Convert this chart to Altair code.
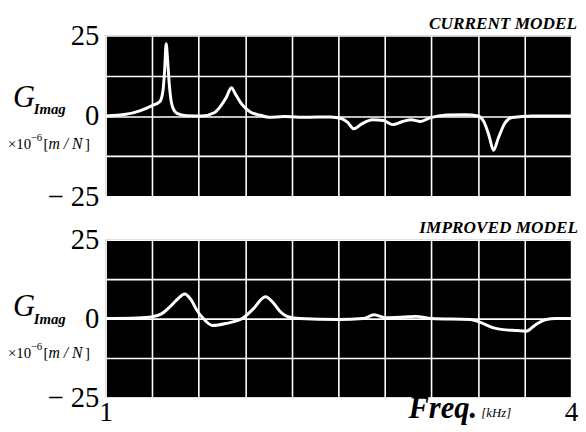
import altair as alt
import pandas as pd

# ---- data ----
freq_current = [1.00, 1.13, 1.22, 1.30, 1.35, 1.37, 1.38, 1.39, 1.40, 1.41, 1.43, 1.46, 1.52, 1.62,
                1.70, 1.74, 1.78, 1.81, 1.84, 1.88, 1.93, 2.00, 2.05, 2.15, 2.30, 2.45, 2.52,
                2.56, 2.60, 2.65, 2.72, 2.79, 2.85, 2.91, 2.97, 3.03, 3.09, 3.20, 3.32, 3.40,
                3.44, 3.47, 3.50, 3.53, 3.57, 3.62, 3.75, 4.00]
gimag_current = [0.0, 0.5, 1.6, 3.2, 4.5, 8.0, 14.0, 22.5, 17.0, 10.0, 3.0, 0.8, 0.1, 0.0,
                 1.0, 3.0, 6.0, 8.8, 6.5, 3.5, 1.3, 0.2, -0.4, -0.2, -0.4, -0.3, -0.8,
                 -2.0, -4.0, -2.5, -1.2, -1.4, -2.7, -1.8, -1.2, -1.7, -0.6, 0.3, 0.4, 0.0,
                 -2.0, -6.0, -10.7, -7.0, -2.5, -0.5, 0.0, 0.0]

freq_improved = [1.00, 1.20, 1.30, 1.36, 1.42, 1.47, 1.51, 1.55, 1.59, 1.63, 1.69, 1.78, 1.88,
                 1.95, 2.03, 2.08, 2.12, 2.18, 2.25, 2.50, 2.66, 2.73, 2.80, 2.92, 3.00, 3.10,
                 3.35, 3.42, 3.49, 3.56, 3.65, 3.71, 3.77, 3.84, 3.90, 4.00]
gimag_improved = [0.0, 0.2, 0.6, 1.5, 4.0, 6.5, 7.8, 6.0, 2.5, 0.0, -2.2, -1.5, 0.0,
                  3.0, 6.9, 5.0, 2.5, 0.5, 0.0, -0.3, 0.0, 1.2, 0.3, 0.5, 0.7, 0.0,
                  -0.3, -1.3, -2.8, -3.5, -3.8, -4.0, -2.0, -0.3, 0.0, 0.0]

x_ticks = [1.0, 1.3, 1.6, 1.9, 2.2, 2.5, 2.8, 3.1, 3.4, 3.7, 4.0]
y_ticks = [-25, -12.5, 0, 12.5, 25]
panel_titles = ["CURRENT MODEL", "IMPROVED MODEL"]
y_title_main = "G"
y_title_sub = "Imag"
y_unit_parts = ["\u00d710", "\u22126", "[", "m / N", "]"]
x_title = "Freq."
x_unit = "[kHz]"

SERIF = "Liberation Serif"
W = 472


def txt(s, x, y, size, style="normal", weight="normal"):
    return alt.Chart(pd.DataFrame({"t": [s]})).mark_text(
        font=SERIF, fontSize=size, fontStyle=style, fontWeight=weight,
        align="left", baseline="alphabetic", color="black").encode(
        text="t:N", x=alt.value(x), y=alt.value(y))


def panel(freqs, vals, title, height, show_x, g_y):
    df = pd.DataFrame({"f": freqs, "g": vals})
    xaxis = alt.Axis(values=x_ticks, grid=True, gridColor="white", gridWidth=1.6, gridOpacity=1,
                     domain=False, ticks=False, labels=show_x, labelFlush=False, labelOverlap=False,
                     labelExpr="datum.value < 1.01 ? '1' : (datum.value > 3.99 ? '4' : '')",
                     labelFont=SERIF, labelFontSize=28, labelColor="black", labelPadding=1, title=None)
    yaxis = alt.Axis(values=y_ticks, grid=True, gridColor="white", gridWidth=1.6, gridOpacity=1,
                     domain=False, ticks=False, labelOverlap=False, labelFlush=False,
                     labelExpr="datum.value == 25 ? '25' : (datum.value == 0 ? '0' : (datum.value == -25 ? '\u2212 25' : ''))",
                     labelFont=SERIF, labelFontSize=29, labelColor="black", labelPadding=7,
                     labelBaseline="middle", title=None)
    line = alt.Chart(df).mark_line(color="white", strokeWidth=3, interpolate="monotone").encode(
        x=alt.X("f:Q", scale=alt.Scale(domain=[1, 4], nice=False, zero=False), axis=xaxis),
        y=alt.Y("g:Q", scale=alt.Scale(domain=[-25, 25], nice=False), axis=yaxis),
    )
    layers = [
        line,
        txt(y_title_main, -94, g_y, 31, "italic"),
        txt(y_title_sub, -73, g_y + 8, 15, "italic", "bold"),
        txt(y_unit_parts[0], -99, g_y + 43, 15),
        txt(y_unit_parts[1], -76, g_y + 35, 11),
        txt(y_unit_parts[2], -63, g_y + 43, 15),
        txt(y_unit_parts[3], -58, g_y + 43, 16, "italic"),
        txt(y_unit_parts[4], -21, g_y + 43, 15),
    ]
    if show_x:
        layers += [
            txt(x_title, 307, height + 21, 31, "italic", "bold"),
            txt(x_unit, 381, height + 20, 13, "italic"),
        ]
    return alt.layer(*layers).properties(
        width=W, height=height,
        title=alt.TitleParams(title, anchor="end", font=SERIF, fontSize=17.5, fontStyle="italic",
                              fontWeight="bold", color="black", offset=-11),
    )


top = panel(freq_current, gimag_current, panel_titles[0], 163, False, 72)
bottom = panel(freq_improved, gimag_improved, panel_titles[1], 160, True, 77)

chart = alt.vconcat(top, bottom, spacing=8).properties(
    padding={"left": 0, "top": 4, "right": 0, "bottom": 0},
    background="white",
).configure_view(fill="black", stroke=None)

chart.save("out.html", embed_options={"renderer": "svg", "actions": False})
